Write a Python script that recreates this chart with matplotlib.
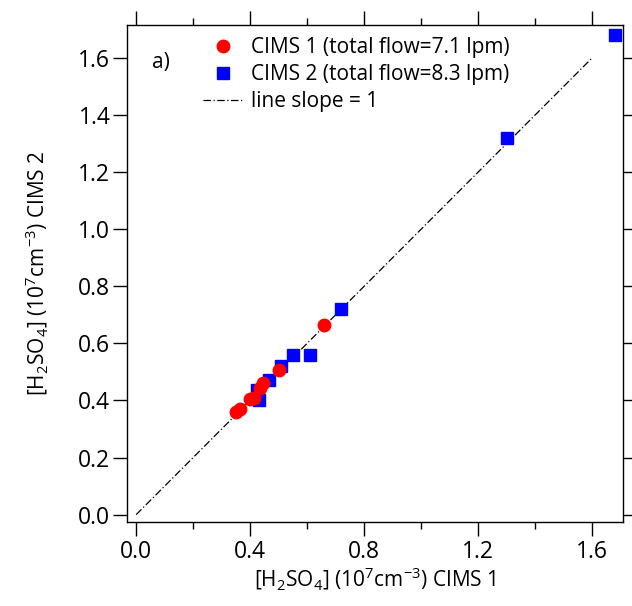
import matplotlib
matplotlib.use("Agg")
import matplotlib.pyplot as plt
from matplotlib.ticker import MultipleLocator

plt.rcParams['font.family'] = ['Open Sans', 'DejaVu Sans']
plt.rcParams['mathtext.fontset'] = 'custom'
plt.rcParams['mathtext.rm'] = 'Open Sans'

# CIMS 1 (red circles)
cims1_x = [0.35, 0.365, 0.40, 0.415, 0.435, 0.445, 0.50, 0.66]
cims1_y = [0.36, 0.37, 0.405, 0.41, 0.445, 0.46, 0.505, 0.665]
# CIMS 2 (blue squares)
cims2_x = [0.43, 0.425, 0.465, 0.51, 0.55, 0.61, 0.72, 1.30, 1.68]
cims2_y = [0.40, 0.435, 0.47, 0.52, 0.56, 0.56, 0.72, 1.32, 1.68]
# 1:1 line
line_x = [0.0, 1.6]
line_y = [0.0, 1.6]

fig = plt.figure(figsize=(6.32, 6.06), dpi=100)
ax = fig.add_axes([0.201, 0.139, 0.785, 0.820])

l1, = ax.plot(cims1_x, cims1_y, 'o', color='red', ms=9, mec='red',
              label='CIMS 1 (total flow=7.1 lpm)', zorder=3)
l2, = ax.plot(cims2_x, cims2_y, 's', color='blue', ms=9, mec='blue',
              label='CIMS 2 (total flow=8.3 lpm)', zorder=2)
l3, = ax.plot(line_x, line_y, color='black', lw=0.9, linestyle=(0, (6, 2, 1, 2)),
              label='line slope = 1', zorder=1)

ax.set_xlim(-0.032, 1.709)
ax.set_ylim(-0.025, 1.716)
ax.xaxis.set_major_locator(MultipleLocator(0.4))
ax.xaxis.set_minor_locator(MultipleLocator(0.2))
ax.yaxis.set_major_locator(MultipleLocator(0.2))
ax.xaxis.set_major_formatter(plt.FormatStrFormatter('%.1f'))
ax.yaxis.set_major_formatter(plt.FormatStrFormatter('%.1f'))

ax.tick_params(which='both', direction='out', top=True, right=True,
               labelsize=16.5, width=1)
ax.tick_params(which='major', length=10, pad=2)
ax.tick_params(axis='x', which='major', pad=3)
ax.tick_params(which='minor', length=5)
for s in ax.spines.values():
    s.set_linewidth(1)

ax.set_xlabel('[H$_2$SO$_4$] (10$^7$cm$^{-3}$) CIMS 1', fontsize=15, labelpad=1)
ax.set_ylabel('[H$_2$SO$_4$] (10$^7$cm$^{-3}$) CIMS 2', fontsize=15, labelpad=20)

ax.text(0.05, 0.925, 'a)', transform=ax.transAxes, fontsize=15, va='center')

ax.legend(handles=[l1, l2, l3], loc='upper left', bbox_to_anchor=(0.153, 0.975),
          frameon=False, fontsize=15, handlelength=1.9, handletextpad=0.4,
          labelspacing=0.29, borderaxespad=0, borderpad=0)

fig.savefig('out.png', dpi=100)
